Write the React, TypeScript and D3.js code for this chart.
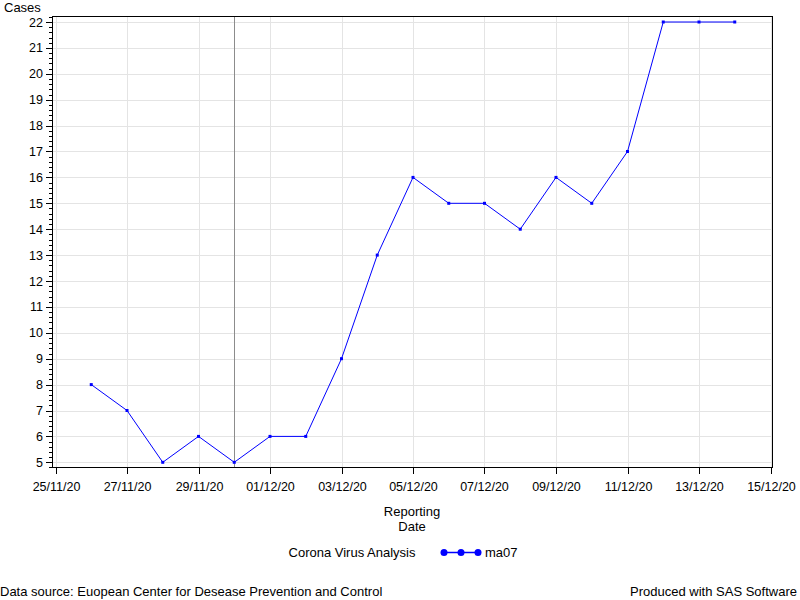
import React from "react";
import * as d3 from "d3";

const dates = ["2020-11-26","2020-11-27","2020-11-28","2020-11-29","2020-11-30","2020-12-01","2020-12-02","2020-12-03","2020-12-04","2020-12-05","2020-12-06","2020-12-07","2020-12-08","2020-12-09","2020-12-10","2020-12-11","2020-12-12","2020-12-13","2020-12-14"];
const ma07 = [8,7,5,6,5,6,6,9,13,16,15,15,14,16,15,17,22,22,22];
const xTickDates = ["2020-11-25","2020-11-27","2020-11-29","2020-12-01","2020-12-03","2020-12-05","2020-12-07","2020-12-09","2020-12-11","2020-12-13","2020-12-15"];
const yTicks = [5,6,7,8,9,10,11,12,13,14,15,16,17,18,19,20,21,22];
const refDate = "2020-11-30";

const parse = d3.utcParse("%Y-%m-%d");
const fmt = d3.utcFormat("%d/%m/%y");

export default function App() {
  const W = 800, H = 600;
  const left = 52, right = 772, top = 16, bottom = 467;
  const x = d3.scaleUtc().domain([parse("2020-11-25")!, parse("2020-12-15")!]).range([55.5, 770.5]);
  const y = d3.scaleLinear().domain([5, 22]).range([462.3, 22]);
  const pts = dates.map((d, i) => [x(parse(d)!), y(ma07[i])] as [number, number]);
  const line = d3.line()(pts) || "";
  const minor: number[] = [];
  for (let v = 4.8; v <= 22.21; v += 0.2) {
    const r = Math.round(v * 10) / 10;
    if (Math.abs(r - Math.round(r)) > 0.01) minor.push(r);
  }
  const font = "'Liberation Sans', Arial, sans-serif";
  return (
    <svg width={W} height={H} style={{ position: "absolute", left: 0, top: 0, background: "#fff" }} fontFamily={font}>
      <rect x={0} y={0} width={W} height={H} fill="#fff" />
      {yTicks.map(t => (
        <line key={"gy" + t} x1={left} x2={right} y1={Math.round(y(t)) + 0.5} y2={Math.round(y(t)) + 0.5} stroke="#e4e4e4" />
      ))}
      {xTickDates.map(t => (
        <line key={"gx" + t} x1={Math.round(x(parse(t)!)) + 0.5} x2={Math.round(x(parse(t)!)) + 0.5} y1={top} y2={bottom} stroke="#e4e4e4" />
      ))}
      <line x1={Math.round(x(parse(refDate)!)) + 0.5} x2={Math.round(x(parse(refDate)!)) + 0.5} y1={top} y2={bottom} stroke="#8c8c8c" />
      <path d={line} fill="none" stroke="#0000ff" strokeWidth={1} />
      {pts.map((p, i) => (
        <rect key={"m" + i} x={p[0] - 1.5} y={p[1] - 1.5} width={3} height={3} fill="#0000ff" />
      ))}
      <rect x={left + 0.5} y={top + 0.5} width={right - left} height={bottom - top} fill="none" stroke="#000" />
      {yTicks.map(t => (
        <g key={"ty" + t}>
          <line x1={left - 6} x2={left} y1={Math.round(y(t)) + 0.5} y2={Math.round(y(t)) + 0.5} stroke="#000" />
          <text x={43} y={y(t) + 4.5} textAnchor="end" fontSize={12.5} fill="#000">{t}</text>
        </g>
      ))}
      {minor.map(t => (
        <line key={"my" + t} x1={left - 3} x2={left} y1={Math.round(y(t)) + 0.5} y2={Math.round(y(t)) + 0.5} stroke="#000" />
      ))}
      {xTickDates.map(t => {
        const xx = Math.round(x(parse(t)!)) + 0.5;
        return (
          <g key={"tx" + t}>
            <line x1={xx} x2={xx} y1={bottom + 1} y2={bottom + 7} stroke="#000" />
            <text x={xx} y={491} textAnchor="middle" fontSize={12.5} fill="#000">{fmt(parse(t)!)}</text>
          </g>
        );
      })}
      <text x={4} y={12} fontSize={13} fill="#000">Cases</text>
      <text x={412} y={516} textAnchor="middle" fontSize={13} fill="#000">Reporting</text>
      <text x={412} y={531} textAnchor="middle" fontSize={13} fill="#000">Date</text>
      <text x={352} y={557} textAnchor="middle" fontSize={13} fill="#000">Corona Virus Analysis</text>
      <line x1={444} x2={478} y1={552.5} y2={552.5} stroke="#0000ff" strokeWidth={1.5} />
      {[444, 461, 478].map(cx => (
        <circle key={"lc" + cx} cx={cx} cy={552.5} r={3.5} fill="#0000ff" />
      ))}
      <text x={485} y={557} fontSize={13} fill="#000">ma07</text>
      <text x={0} y={596} fontSize={13} fill="#000">Data source: Euopean Center for Desease Prevention and Control</text>
      <text x={797} y={596} textAnchor="end" fontSize={13} fill="#000">Produced with SAS Software</text>
    </svg>
  );
}
